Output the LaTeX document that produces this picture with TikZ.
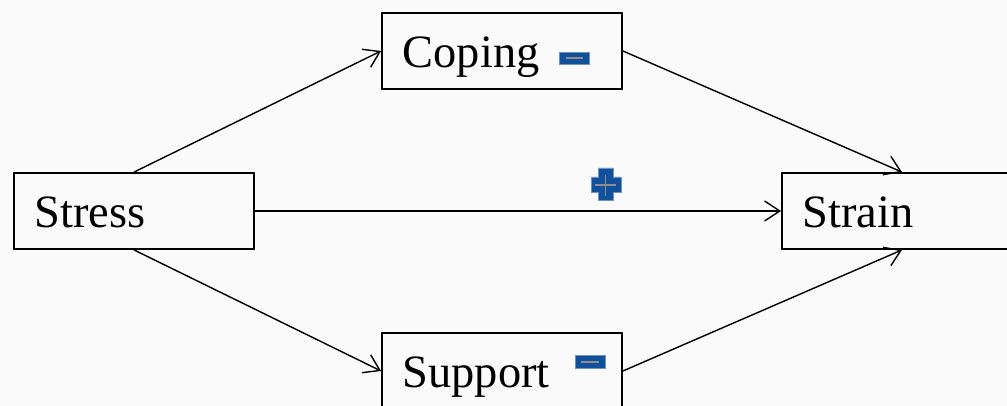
\documentclass[tikz,border=0pt]{standalone}
\usepackage{fontspec}
\setmainfont{Liberation Serif}
\usetikzlibrary{positioning}
\usetikzlibrary{arrows.meta}

\definecolor{iconblue}{HTML}{11509A}
\definecolor{iconedge}{HTML}{6F93C2}
\definecolor{icongray}{HTML}{8E8E8E}

\tikzset{
 varbox/.style={draw,line width=1.3pt,inner xsep=0.52cm,inner ysep=0pt,
   text width=4.96cm,text height=1.0cm,text depth=0.2cm,
   minimum height=1.9cm,align=left,
   font=\fontsize{33}{33}\selectfont},
 link/.style={line width=1pt,-{Straight Barb[length=0.38cm,width=0.5cm]}},
 iconbox/.style={fill=iconblue,draw=iconedge,line width=0.6pt},
 iconbar/.style={draw=icongray,line width=1.3pt}
}

\begin{document}
\begin{tikzpicture}[x=0.025cm,y=-0.025cm]
 \useasboundingbox (0,0) rectangle (1007,406);
 \clip (0,0) rectangle (1007,406);
 \fill[black!2] (0,0) rectangle (1007,406);

 % the four variables
 \node[varbox] (stress) at (134,211) {Stress};
 \node[varbox] (coping) at (502,51) {Coping};
 \node[varbox] (strain) at (902,211) {Strain};
 \node[varbox] (support) at (502,371) {Support};

 % paths
 \draw[link] (stress.north) -- (coping.west);
 \draw[link] (coping.east) -- (strain.north);
 \draw[link] (stress.east) -- (strain.west);
 \draw[link] (stress.south) -- (support.west);
 \draw[link] (support.east) -- (strain.south);

 % signs
 \draw[iconbox] (559,52) rectangle (589,64);
 \draw[iconbar] (566,58) -- (583,58);
 \draw[iconbox] (575,355) rectangle (605,368);
 \draw[iconbar] (581,362) -- (599,362);
 \draw[iconbox] (598,168)--(613,168)--(613,177)--(621,177)--(621,192)--(613,192)
   --(613,200)--(598,200)--(598,192)--(591,192)--(591,177)--(598,177)--cycle;
 \draw[iconbar] (595,185) -- (616,185);
 \draw[iconbar] (605.5,175) -- (605.5,196);
\end{tikzpicture}
\end{document}
